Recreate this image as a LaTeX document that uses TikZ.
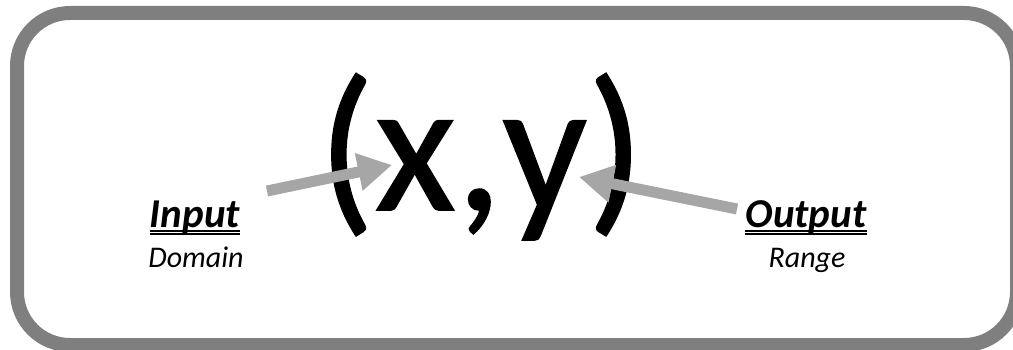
\documentclass[tikz,border=0pt]{standalone}
\usepackage{fontspec}
\setmainfont{Carlito}
\newfontfamily\heavyfont[FakeBold=0.8]{Carlito}
\usepackage{xcolor}
\usetikzlibrary{arrows.meta,positioning}
\definecolor{framegray}{RGB}{127,127,127}
\definecolor{arrowgray}{RGB}{166,166,166}

\begin{document}
\begin{tikzpicture}[
    x=1pt, y=-1pt,
    frame/.style={draw=framegray, line width=14pt, rounded corners=53pt},
    pair/.style={inner sep=0pt, anchor=base, font=\heavyfont\fontsize{187}{190}\selectfont},
    label/.style={inner sep=0pt, anchor=base, font=\fontsize{41}{44}\selectfont\bfseries\itshape},
    sub/.style={inner sep=0pt, anchor=base, font=\fontsize{30}{33}\selectfont\itshape},
    uline/.style={line width=2pt},
    arrow/.style={-{Triangle[length=34pt,width=36pt]}, draw=arrowgray, fill=arrowgray, line width=11pt}
]
\useasboundingbox (0,0) rectangle (1013,350);
\clip (0,0) rectangle (1013,350);

% Frame
\draw[frame] (17,13) rectangle (1017,345);

% Ordered pair
\node[pair] (xy) at (481,210) {(x,y)};

% Labels
\node[label] (inp) at (195,227) {Input};
\node[sub] (dom) at (196,267) {Domain};
\node[label] (out) at (806,227) {Output};
\node[sub] (rng) at (807,267) {Range};

% Double underlines
\draw[uline] ([yshift=-4pt]inp.base west) -- ([yshift=-4pt]inp.base east);
\draw[uline] ([yshift=-7pt]inp.base west) -- ([yshift=-7pt]inp.base east);
\draw[uline] ([yshift=-4pt]out.base west) -- ([yshift=-4pt]out.base east);
\draw[uline] ([yshift=-7pt]out.base west) -- ([yshift=-7pt]out.base east);

% Arrows
\coordinate (intail) at (267,191);
\coordinate (xtip) at (392,165);
\coordinate (outtail) at (737,209);
\coordinate (ytip) at (579,177);
\draw[arrow] (intail) -- (xtip);
\draw[arrow] (outtail) -- (ytip);

\end{tikzpicture}
\end{document}
